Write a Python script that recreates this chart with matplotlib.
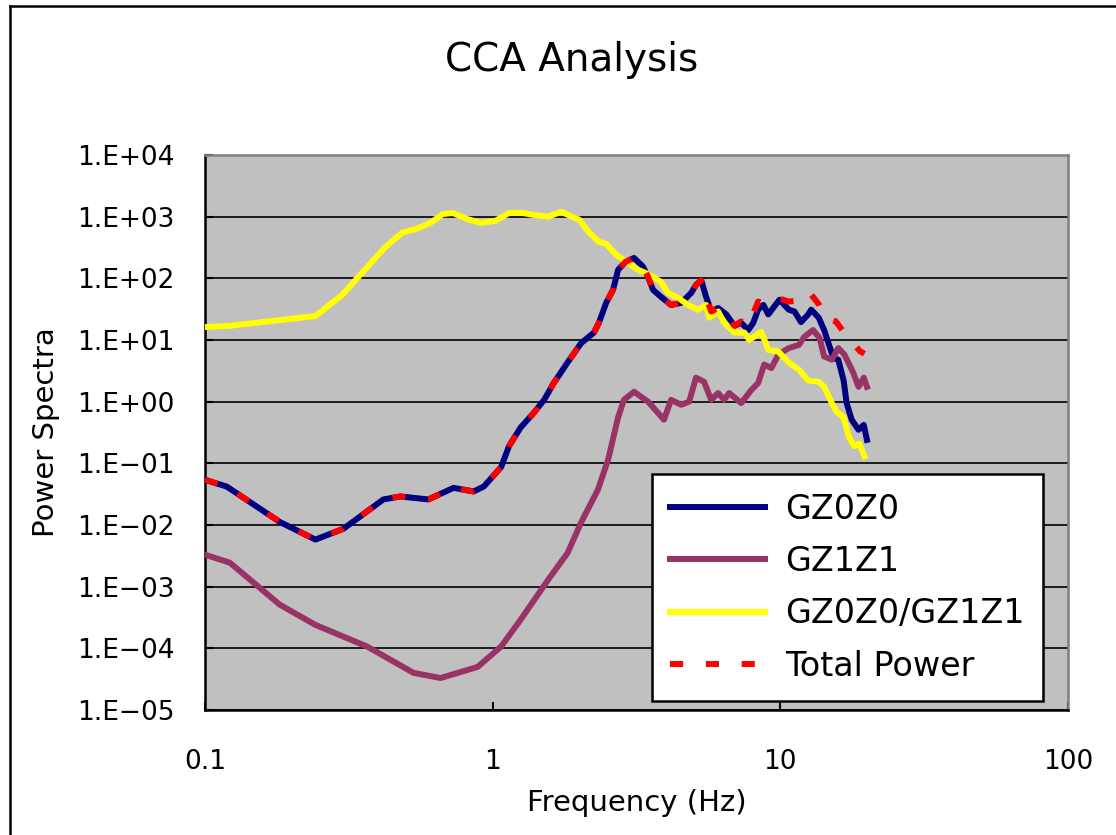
import matplotlib
matplotlib.use("Agg")
import matplotlib.pyplot as plt
from matplotlib.lines import Line2D
from matplotlib.ticker import FixedLocator, FixedFormatter, NullLocator

plt.rcParams['font.family'] = ['DejaVu Sans']

# GZ0Z0
freq_gz0 = [0.100, 0.119, 0.182, 0.242, 0.303, 0.417, 0.478, 0.598, 0.731, 0.859,
            0.931, 1.07, 1.14, 1.25, 1.39, 1.51, 1.63, 1.82, 2.03, 2.25,
            2.34, 2.48, 2.62, 2.73, 2.90, 3.10, 3.33, 3.47, 3.61, 3.85,
            4.17, 4.52, 4.90, 5.09, 5.31, 5.52, 5.75, 6.08, 6.49, 6.92,
            7.31, 7.74, 8.05, 8.37, 8.73, 9.08, 9.53, 9.93, 10.7, 11.2,
            11.8, 12.5, 12.8, 13.6, 14.2, 14.7, 15.3, 15.9, 16.6, 17.0,
            17.7, 18.7, 19.5, 20.0]
gz0 = [0.054, 0.042, 0.0112, 0.0058, 0.0087, 0.026, 0.029, 0.026, 0.040, 0.035,
       0.042, 0.087, 0.19, 0.38, 0.66, 1.07, 2.0, 4.3, 8.9, 13.2,
       19, 40, 65, 138, 186, 214, 155, 105, 65, 50,
       37, 40, 58, 78, 93, 50, 29, 33, 26, 17,
       19, 14.5, 19, 31, 37, 26, 35, 45, 31, 29,
       19.5, 26, 31, 23, 14.5, 8.9, 5.1, 4.8, 2.2, 0.95,
       0.51, 0.35, 0.42, 0.24]

# GZ1Z1
freq_gz1 = [0.100, 0.122, 0.182, 0.242, 0.366, 0.531, 0.659, 0.887, 1.07, 1.25,
            1.56, 1.82, 2.03, 2.32, 2.52, 2.73, 2.86, 3.10, 3.28, 3.47,
            3.94, 4.17, 4.52, 4.82, 5.09, 5.43, 5.75, 6.08, 6.38, 6.64,
            7.31, 7.93, 8.37, 8.79, 9.31, 9.84, 10.7, 11.6, 12.1, 13.0,
            13.7, 14.2, 15.1, 15.9, 16.7, 17.9, 18.7, 19.5, 20.0]
gz1 = [0.0033, 0.00245, 0.00051, 0.00024, 0.000107, 0.00004, 0.000033, 0.00005, 0.000107, 0.00029,
       0.0013, 0.0035, 0.011, 0.037, 0.115, 0.56, 1.07, 1.45, 1.2, 1.0,
       0.51, 1.07, 0.89, 1.0, 2.45, 2.1, 1.07, 1.38, 1.07, 1.38,
       0.95, 1.55, 2.0, 4.0, 3.5, 5.8, 7.4, 8.3, 11.2, 14.5,
       10.7, 5.4, 4.8, 7.4, 5.8, 3.0, 1.74, 2.45, 1.74]

# GZ0Z0/GZ1Z1
freq_ratio = [0.100, 0.122, 0.242, 0.300, 0.347, 0.424, 0.485, 0.540, 0.608, 0.670,
              0.726, 0.818, 0.908, 1.02, 1.14, 1.27, 1.38, 1.56, 1.73, 2.00,
              2.16, 2.34, 2.48, 2.69, 2.95, 3.20, 3.50, 3.85, 4.07, 4.42,
              4.78, 5.18, 5.52, 5.66, 6.08, 6.38, 6.92, 7.50, 7.80, 8.59,
              9.08, 9.84, 10.7, 11.6, 12.5, 13.6, 14.2, 15.1, 15.7, 16.6,
              17.3, 18.1, 18.8, 19.6]
ratio = [16.2, 17, 24.5, 54, 115, 324, 550, 630, 794, 1100,
         1150, 912, 794, 850, 1150, 1150, 1070, 1000, 1200, 890,
         560, 390, 363, 240, 178, 138, 115, 87, 58, 48,
         37, 31, 37, 23, 29, 19, 13.2, 13.2, 10, 13.5,
         6.9, 6.5, 4.3, 3.3, 2.2, 2.1, 1.74, 0.95, 0.68, 0.56,
         0.27, 0.19, 0.21, 0.13]

# Total Power
freq_total = [0.100, 0.119, 0.182, 0.242, 0.303, 0.417, 0.478, 0.598, 0.731, 0.859,
              0.931, 1.07, 1.14, 1.25, 1.39, 1.51, 1.63, 1.82, 2.03, 2.25,
              2.34, 2.48, 2.62, 2.73, 2.90, 3.10, 3.33, 3.47, 3.61, 3.85,
              4.17, 4.52, 4.90, 5.09, 5.31, 5.52, 5.75, 6.08, 6.49, 6.92,
              7.31, 7.74, 8.37, 9.08, 9.8, 10.7, 11.2, 11.8, 12.6, 13.6,
              14.2, 15.6, 16.5, 17.3, 18.9, 19.6]
total = [0.054, 0.042, 0.0112, 0.0058, 0.0087, 0.026, 0.029, 0.026, 0.040, 0.035,
         0.042, 0.087, 0.19, 0.38, 0.66, 1.07, 2.0, 4.3, 8.9, 13.2,
         19, 40, 65, 138, 186, 214, 155, 105, 65, 50,
         37, 40, 58, 78, 93, 50, 29, 33, 26, 17,
         20, 17, 42, 38, 48, 42, 43, 45, 60, 38,
         23, 20, 14, 10.8, 6.6, 6.0]

y_ticks = [1e-5, 1e-4, 1e-3, 1e-2, 1e-1, 1e0, 1e1, 1e2, 1e3, 1e4]
y_labels = ["1.E\u221205", "1.E\u221204", "1.E\u221203", "1.E\u221202", "1.E\u221201",
            "1.E+00", "1.E+01", "1.E+02", "1.E+03", "1.E+04"]
x_ticks = [0.1, 1, 10, 100]
x_labels = ["0.1", "1", "10", "100"]

fig = plt.figure(figsize=(11.16, 8.35), dpi=100)
ax = fig.add_axes([205 / 1116, 125 / 835, 863 / 1116, 555 / 835])
ax.set_facecolor('#C0C0C0')
ax.set_xscale('log')
ax.set_yscale('log')
ax.set_xlim(0.1, 100)
ax.set_ylim(1e-5, 1e4)

ax.plot(freq_gz0, gz0, color='#000080', lw=4.3, label='GZ0Z0', zorder=3)
ax.plot(freq_gz1, gz1, color='#993366', lw=4.3, label='GZ1Z1', zorder=3)
ax.plot(freq_ratio, ratio, color='#FFFF00', lw=4.3, label='GZ0Z0/GZ1Z1', zorder=3)
ax.plot(freq_total, total, color='#FF0000', lw=4.3, dashes=(2.2, 3.8),
        label='Total Power', zorder=4)

ax.yaxis.set_major_locator(FixedLocator(y_ticks))
ax.yaxis.set_major_formatter(FixedFormatter(y_labels))
ax.xaxis.set_major_locator(FixedLocator(x_ticks))
ax.xaxis.set_major_formatter(FixedFormatter(x_labels))
ax.yaxis.set_minor_locator(NullLocator())
ax.xaxis.set_minor_locator(NullLocator())
ax.tick_params(axis='both', direction='in', length=6, width=1.5, labelsize=19)
ax.tick_params(axis='x', pad=28)
ax.tick_params(axis='y', pad=22)
ax.grid(True, axis='y', color='black', lw=1.2, zorder=1)
ax.set_axisbelow(True)

for side in ['left', 'bottom']:
    ax.spines[side].set_color('black')
    ax.spines[side].set_linewidth(1.8)
for side in ['top', 'right']:
    ax.spines[side].set_color('#808080')
    ax.spines[side].set_linewidth(1.8)

ax.set_xlabel('Frequency (Hz)', fontsize=21, labelpad=10)
ax.set_ylabel('Power Spectra', fontsize=21, labelpad=12)
fig.text(572 / 1116, 1 - 60 / 835, 'CCA Analysis', fontsize=28,
         ha='center', va='center')

leg = ax.legend(loc='lower right', bbox_to_anchor=(0.971, 0.016), fontsize=24,
                frameon=True, fancybox=False, framealpha=1, edgecolor='black',
                handlelength=2.85, labelspacing=0.58, borderpad=0.55,
                handletextpad=0.6, borderaxespad=0)
leg.get_frame().set_linewidth(1.8)

# chart border (left and top edges visible)
fig.add_artist(Line2D([10 / 1116, 10 / 1116], [0, 1 - 6 / 835], color='black', lw=1.8))
fig.add_artist(Line2D([10 / 1116, 1], [1 - 6 / 835, 1 - 6 / 835], color='black', lw=1.8))

fig.savefig('out.png', dpi=100)
